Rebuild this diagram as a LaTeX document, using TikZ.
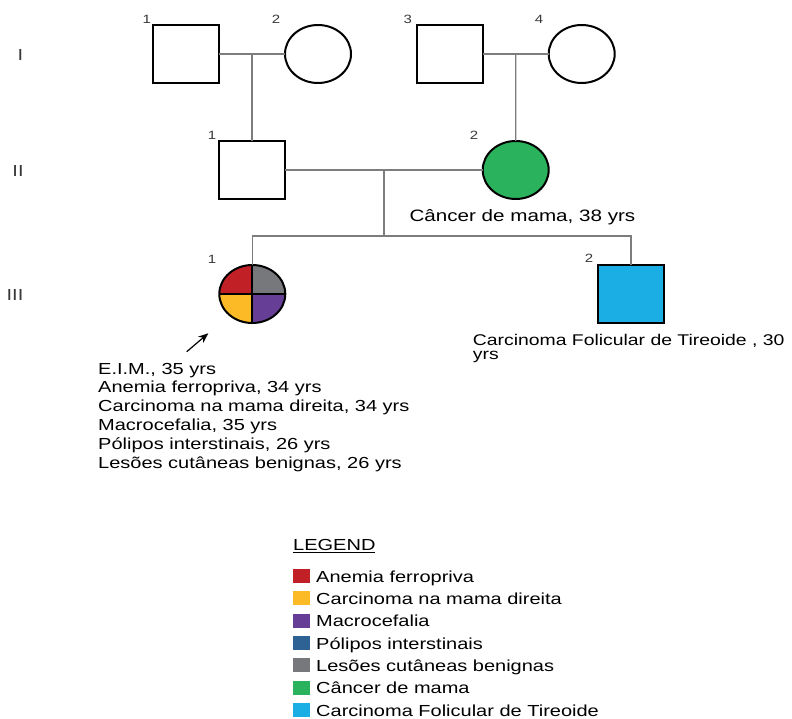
\documentclass[tikz,border=0pt]{standalone}
\usepackage{fontspec}
\setmainfont{Liberation Sans}[FakeStretch=1.25]
\usetikzlibrary{calc,shapes.geometric,arrows.meta}
\definecolor{anred}{RGB}{193,32,38}
\definecolor{caryellow}{RGB}{252,187,38}
\definecolor{macpurple}{RGB}{102,62,150}
\definecolor{polblue}{RGB}{47,98,148}
\definecolor{lesgray}{RGB}{118,120,123}
\definecolor{cangreen}{RGB}{42,178,92}
\definecolor{tircyan}{RGB}{27,174,228}
\definecolor{linegray}{RGB}{125,125,125}
\definecolor{numgray}{RGB}{55,55,55}
\tikzset{
  male/.style={rectangle, draw, line width=2pt, minimum width=66pt,
    minimum height=58pt, inner sep=0pt, outer sep=0pt},
  female/.style={ellipse, draw, line width=2pt, minimum width=66pt,
    minimum height=58pt, inner sep=0pt, outer sep=0pt},
  proband/.style={female, path picture={
    \fill[anred] (path picture bounding box.center) rectangle (path picture bounding box.north west);
    \fill[lesgray] (path picture bounding box.center) rectangle (path picture bounding box.north east);
    \fill[caryellow] (path picture bounding box.center) rectangle (path picture bounding box.south west);
    \fill[macpurple] (path picture bounding box.center) rectangle (path picture bounding box.south east);
    \draw[line width=2pt] (path picture bounding box.west) -- (path picture bounding box.east)
      (path picture bounding box.north) -- (path picture bounding box.south);}},
  rel/.style={draw=linegray, line width=1.3pt},
  num/.style={font=\fontsize{12}{14}\selectfont, text=numgray, inner sep=0pt},
  gen/.style={font=\fontsize{16}{18}\selectfont, text=numgray, inner sep=0pt},
  info/.style={font=\fontsize{16}{18.8}\selectfont, inner sep=0pt, anchor=base west, align=left},
  legbox/.style={rectangle, minimum width=17pt, minimum height=14pt, inner sep=0pt},
}
% legend row: name, baseline, colour, text
\newcommand{\legrow}[4]{
\node[legbox, fill=#3] (#1) at (301.5,#2-6) {};
\node[info] (#1t) at (316,#2) {#4};
}

\begin{document}
\begin{tikzpicture}[x=1pt,y=-1pt]
\useasboundingbox (0,0) rectangle (792,719);

% generation labels
\node[gen] (gI) at (20.5,55) {I};
\node[gen] (gII) at (18,171) {II};
\node[gen] (gIII) at (15,295) {III};

% generation I
\node[male] (m1) at (186,54) {};
\node[female] (f2) at (318,54) {};
\node[male] (m3) at (449.7,54) {};
\node[female] (f4) at (581.7,54) {};
\node[num] (n1) at (146.7,19) {1};
\node[num] (n2) at (276,19) {2};
\node[num] (n3) at (407.7,19) {3};
\node[num] (n4) at (539,19) {4};

% generation II
\node[male] (m21) at (252,170) {};
\node[female, fill=cangreen] (f22) at (515.7,170) {};
\node[num] (n21) at (212,135) {1};
\node[num] (n22) at (474,135) {2};
\node[info, font=\fontsize{16.5}{18.8}\selectfont] (t22) at (409.3,221.7) {Câncer de mama, 38 yrs};

% generation III
\node[proband] (p31) at (252.3,294) {};
\node[male, fill=tircyan] (m32) at (631,294) {};
\node[num] (n31) at (212,259) {1};
\node[num] (n32) at (589,258) {2};
\node[info, font=\fontsize{15.5}{14.5}\selectfont] (t32) at (472.7,359.5)
  {Carcinoma Folicular de Tireoide , 30\\yrs};

% couples and children
\coordinate (u1) at ($(m1.east)!0.5!(f2.west)$);
\coordinate (u2) at ($(m3.east)!0.5!(f4.west)$);
\coordinate (u3) at ($(m21.east)!0.5!(f22.west)$);
\coordinate (sib) at ($(u3)+(0,66)$);
\draw[rel] (m1.east) -- (f2.west);
\draw[rel] (m3.east) -- (f4.west);
\draw[rel] (m21.east) -- (f22.west);
\draw[rel] (u1) -- (m21.north);
\draw[rel] (u2) -- (f22.north);
\draw[rel] (u3) -- (sib);
\draw[rel] (p31.north) -- (p31.north |- sib) -- (m32.north |- sib) -- (m32.north);

% proband arrow
\coordinate (atail) at (186.7,351.7);
\coordinate (atip) at (208.3,333.3);
\draw[line width=1.2pt, -{Stealth[length=10pt,width=8pt]}] (atail) -- (atip);
\node[info] (t31) at (98,468) {E.I.M., 35 yrs\\
Anemia ferropriva, 34 yrs\\
Carcinoma na mama direita, 34 yrs\\
Macrocefalia, 35 yrs\\
Pólipos interstinais, 26 yrs\\
Lesões cutâneas benignas, 26 yrs};

% legend
\node[info] (leg) at (293,550.7) {\underline{LEGEND}};
\legrow{l1}{582}{anred}{Anemia ferropriva}
\legrow{l2}{604.3}{caryellow}{Carcinoma na mama direita}
\legrow{l3}{626.7}{macpurple}{Macrocefalia}
\legrow{l4}{649}{polblue}{Pólipos interstinais}
\legrow{l5}{671.3}{lesgray}{Lesões cutâneas benignas}
\legrow{l6}{693.7}{cangreen}{Câncer de mama}
\legrow{l7}{716}{tircyan}{Carcinoma Folicular de Tireoide}
\end{tikzpicture}
\end{document}
